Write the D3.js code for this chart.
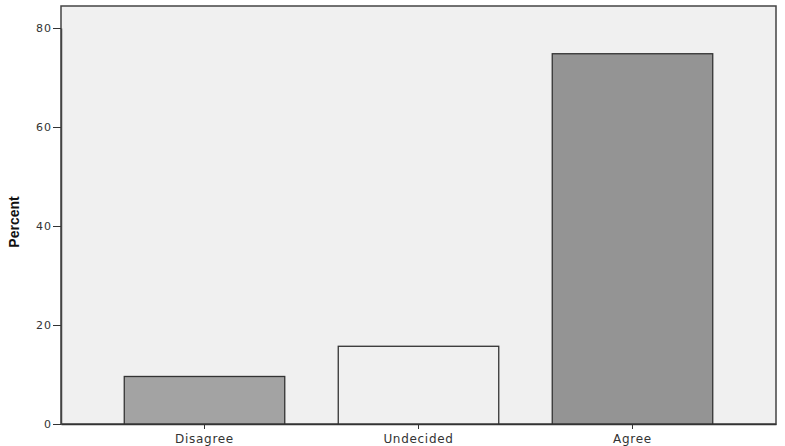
<!DOCTYPE html>
<html><head><meta charset="utf-8">
<script src="https://cdn.jsdelivr.net/npm/d3@7"></script>
<style>body{margin:0;background:#fff}svg{display:block}text{font-family:"DejaVu Sans",Arial,sans-serif}</style>
</head><body>
<svg id="c" width="785" height="446"></svg>
<script>
const categories = ["Disagree", "Undecided", "Agree"];
const percents = [9.6, 15.7, 74.8];
const barColors = ["#a3a3a3", "#f0f0f0", "#949494"];
const yTicks = [0, 20, 40, 60, 80];

const svg = d3.select("#c");
const L = 61, R = 776, T = 6, B = 424;
const x = d3.scaleBand().domain(categories).range([L, R]).paddingInner(0.25).paddingOuter(0.2956);
const y = d3.scaleLinear().domain([0, 80]).range([B, 28]);

svg.append("rect").attr("x", L).attr("y", T).attr("width", R - L).attr("height", B - T)
  .attr("fill", "#f0f0f0").attr("stroke", "#444").attr("stroke-width", 1.5);

svg.selectAll(".bar").data(categories).enter().append("rect")
  .attr("x", d => x(d)).attr("width", x.bandwidth())
  .attr("y", (d, i) => y(percents[i])).attr("height", (d, i) => B - y(percents[i]))
  .attr("fill", (d, i) => barColors[i]).attr("stroke", "#333").attr("stroke-width", 1.3);

const ya = svg.append("g").attr("transform", `translate(${L},0)`)
  .call(d3.axisLeft(y).tickValues(yTicks).tickSize(8).tickSizeOuter(0).tickPadding(1));
ya.select(".domain").attr("stroke", "#444").attr("stroke-width", 1.5);
ya.selectAll("line").attr("stroke", "#333");
ya.selectAll("text").attr("font-size", 11).attr("letter-spacing", 1).attr("fill", "#333");

const xa = svg.append("g").attr("transform", `translate(0,${B})`)
  .call(d3.axisBottom(x).tickSize(5).tickSizeOuter(0).tickPadding(5));
xa.select(".domain").attr("stroke", "#333").attr("stroke-width", 1.3);
xa.selectAll("line").attr("stroke", "#333");
xa.selectAll("text").attr("font-size", 12).attr("letter-spacing", 0.7).attr("fill", "#333");

svg.append("text").attr("transform", "translate(19,222) rotate(-90)")
  .attr("text-anchor", "middle").attr("font-size", 14).attr("font-weight", "bold").attr("fill", "#111")
  .style("font-family", "Arial, 'Liberation Sans', sans-serif")
  .text("Percent");
</script>
</body></html>
